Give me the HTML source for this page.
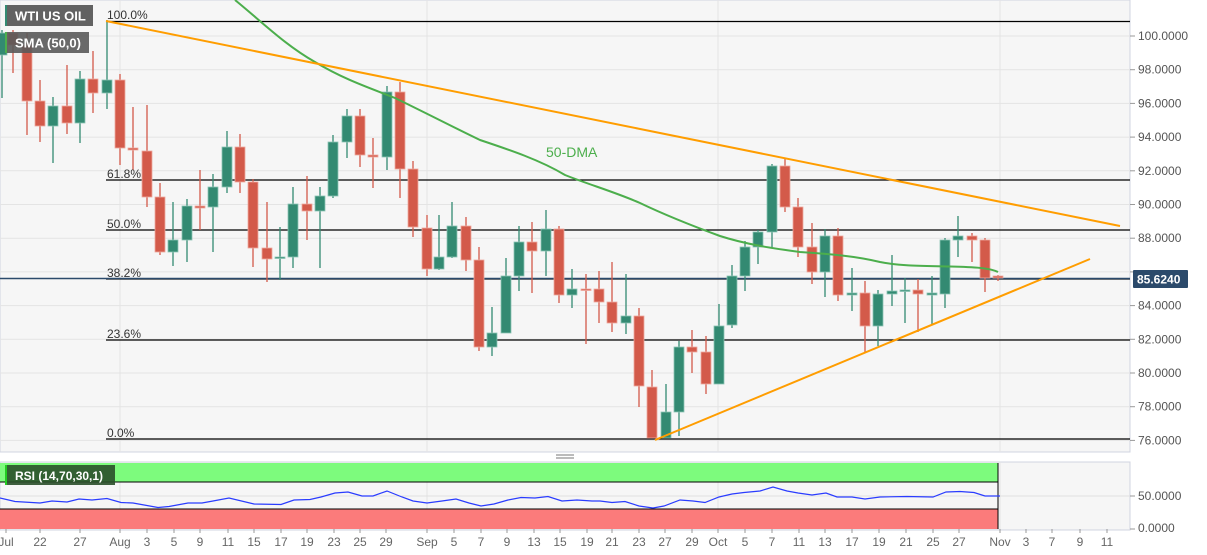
<!DOCTYPE html>
<html><head><meta charset="utf-8">
<style>
html,body{margin:0;padding:0;background:#fff;}
svg{display:block;font-family:"Liberation Sans",sans-serif;}
</style></head><body>
<svg id="c" width="1207" height="555" viewBox="0 0 1207 555" xmlns="http://www.w3.org/2000/svg">
<rect x="0" y="0" width="1207" height="555" fill="#fff"/>
<rect x="0" y="0" width="1130" height="452" fill="#f6f6f6" stroke="#d0d4e0"/>
<rect x="0" y="462" width="1130" height="68" fill="#f6f6f6" stroke="#d0d4e0"/>
<g id="grid" stroke="#e4e4e4" stroke-width="1"></g>
<g id="fib" stroke="#000" stroke-width="1.3"></g>
<line x1="0" y1="278.5" x2="1130" y2="278.5" stroke="#2b4a6b" stroke-width="1.5"/>
<g id="candles"></g>
<path fill="none" stroke="#4cae4c" stroke-width="2" d="M235,0 C262,22 285,45 315,62 C345,80 370,88 395,98 C430,115 455,128 480,140 C510,150 540,160 565,175 C590,185 615,192 640,203 C665,215 690,225 720,236 C745,244 770,248 800,252 C830,254 855,256 880,262 C900,266 920,266 950,266.5 C975,267 990,268 998,272"/>
<line x1="106" y1="21" x2="1120" y2="226" stroke="#ff9d00" stroke-width="2"/>
<line x1="655" y1="440" x2="1090" y2="259" stroke="#ff9d00" stroke-width="2"/>
<text x="546" y="157" font-size="14" fill="#4cae4c">50-DMA</text>
<g font-size="12" fill="#333">
<text x="107" y="19">100.0%</text>
<text x="107" y="178">61.8%</text>
<text x="107" y="228">50.0%</text>
<text x="107" y="277">38.2%</text>
<text x="107" y="338">23.6%</text>
<text x="107" y="437">0.0%</text>
</g>
<g id="yax" font-size="12" fill="#555"></g>
<rect x="1133" y="270" width="55" height="18" fill="#2b4a6b" rx="1"/>
<text x="1137" y="283.5" font-size="12" font-weight="bold" fill="#fff">85.6240</text>
<rect x="0" y="463" width="998" height="19" fill="#7dfb7d"/>
<line x1="0" y1="482" x2="998" y2="482" stroke="#000"/>
<rect x="0" y="509" width="998" height="20" fill="#fb7b7b"/>
<line x1="0" y1="509" x2="998" y2="509" stroke="#000"/>
<line x1="998" y1="463" x2="998" y2="529" stroke="#000"/>
<line x1="0" y1="496" x2="1130" y2="496" stroke="#e0e0e0"/>
<polyline id="rsi" fill="none" stroke="#2a3cff" stroke-width="1.2"/>
<line x1="1130" y1="496" x2="1135" y2="496" stroke="#999"/>
<line x1="1130" y1="529" x2="1135" y2="529" stroke="#999"/>
<text x="1138" y="500" font-size="12" fill="#555">50.0000</text>
<text x="1138" y="532" font-size="12" fill="#555">0.0000</text>
<line x1="556" y1="455" x2="574" y2="455" stroke="#777"/>
<line x1="556" y1="458" x2="574" y2="458" stroke="#777"/>
<g id="xax" font-size="12" fill="#666"></g>
<rect x="5" y="5" width="88" height="21" fill="#5a5a5a" opacity="0.95"/>
<rect x="5" y="5" width="2" height="21" fill="#338a72"/>
<text x="15" y="20.5" font-size="13" font-weight="bold" fill="#fff">WTI US OIL</text>
<rect x="5" y="32" width="84" height="21" fill="#5a5a5a" opacity="0.9"/>
<rect x="5" y="32" width="2" height="21" fill="#4cae4c"/>
<text x="15" y="47.5" font-size="13" font-weight="bold" fill="#fff">SMA (50,0)</text>
<rect x="5" y="465" width="110" height="20" fill="#2a4f2a" opacity="0.9"/>
<rect x="5" y="465" width="2" height="20" fill="#2c2"/>
<text x="15" y="480" font-size="12" font-weight="bold" fill="#fff">RSI (14,70,30,1)</text>
</svg>
<script>
var NS="http://www.w3.org/2000/svg";
function el(p,t,a,txt){var e=document.createElementNS(NS,t);for(var k in a)e.setAttribute(k,a[k]);if(txt!=null)e.textContent=txt;document.getElementById(p).appendChild(e);return e;}
for(var i=0;i<=12;i++){var v=100-2*i;var y=36+i*33.7;if(y>452)break;
 el("grid","line",{x1:0,y1:y,x2:1130,y2:y});
 el("yax","line",{x1:1130,y1:y,x2:1135,y2:y,stroke:"#999"});
 if(v!==86) el("yax","text",{x:1138,y:y+4},v.toFixed(4));}
var dates=[["Jul",6],["22",40],["27",80],["Aug",120],["3",147],["5",174],["9",200],["11",228],["15",254],["17",281],["19",307],["23",334],["25",360],["29",386],["Sep",427],["5",454],["7",481],["9",507],["13",534],["15",560],["19",587],["21",612],["23",639],["27",665],["29",692],["Oct",718],["5",745],["7",772],["11",799],["13",825],["17",852],["19",879],["21",906],["25",933],["27",959],["Nov",1000],["3",1026],["7",1052],["9",1080],["11",1107]];
dates.forEach(function(d){
 if(d[0]=="Aug"||d[0]=="Sep"||d[0]=="Oct"||d[0]=="Nov"){el("grid","line",{x1:d[1],y1:0,x2:d[1],y2:452});el("grid","line",{x1:d[1],y1:462,x2:d[1],y2:529});}
 el("xax","line",{x1:d[1],y1:529,x2:d[1],y2:533,stroke:"#999"});
 el("xax","text",{x:d[1],y:546,"text-anchor":"middle"},d[0]);});
[21.5,180,230,279,340,439].forEach(function(y){el("fib","line",{x1:106,y1:y,x2:1130,y2:y});});
var C=[[2,55,33,30,98,"g"],[13,33,45,30,73],[27,45,101,33,135],[40,101,126,80,142],[53,126,106,97,163],[67,106,123,65,134],[80,123,79,71,143],[93,79,93,51,113],[107,93,80,20,109],[120,80,148,74,165],[133,148,150,107,170],[147,151,197,105,207],[160,197,252,183,255],[173,252,240,202,266],[187,240,206,199,262],[200,206,208,170,230],[213,207,187,174,252],[227,187,147,131,193],[240,147,182,134,193],[253,182,248,179,267],[267,248,259,202,282],[280,258,257,227,280],[293,257,204,187,268],[307,204,211,176,240],[320,211,196,187,268],[333,196,142,135,198],[347,142,116,109,158],[360,116,155,109,167],[373,155,157,138,188],[387,157,92,86,170],[400,92,169,82,198],[413,169,227,161,237],[427,228,269,215,276],[439,269,257,215,270],[452,257,226,202,258],[466,226,260,217,271],[479,260,347,247,351],[492,347,333,307,356],[506,333,276,258,333],[519,276,242,226,291],[532,242,251,222,293],[546,251,229,210,276],[559,229,295,226,303],[572,295,289,269,308],[586,289,290,274,344],[599,289,302,271,323],[612,302,323,262,332],[626,323,316,274,334],[639,316,386,308,407],[652,387,438,370,438],[666,438,412,384,438],[679,412,347,341,436],[692,347,352,330,373],[706,352,384,336,394],[719,384,326,304,384],[732,325,276,265,328],[745,276,247,241,291],[758,247,232,230,264],[772,232,166,164,248],[785,166,207,159,212],[798,207,247,198,257],[812,247,272,223,284],[825,272,236,229,297],[838,236,295,228,301],[852,295,293,268,311],[865,293,326,281,352],[878,326,294,290,346],[892,294,291,255,306],[905,291,290,278,323],[918,290,294,279,332],[932,295,293,276,325],[945,294,240,238,308],[958,240,236,216,257],[972,236,240,233,262],[985,240,278,238,292],[998,276,278,275,281]];
C.forEach(function(c){var up=c[2]<c[1];if(c[5]=="g")up=true;var col=up?"#338a72":"#d35a4a";
 el("candles","line",{x1:c[0],y1:c[3],x2:c[0],y2:c[4],stroke:col,"stroke-width":1.3});
 var t=Math.min(c[1],c[2]),h=Math.max(Math.abs(c[1]-c[2]),1.5);
 el("candles","rect",{x:c[0]-5,y:t,width:10,height:h,fill:col,stroke:up?"#8cc4b4":"#eea99e","stroke-width":0.8});});
var R=[[0,498],[15,501.5],[40,503],[52,501],[67,502],[79,499],[92,500],[107,498.5],[121,502.5],[133,503],[158,507.5],[169,506.5],[188,503],[202,503],[213,501],[229,498],[254,504],[281,504.5],[294,500],[310,499.5],[321,497],[335,493],[348,492],[362,496],[373,496],[387,491],[402,497],[413,501],[427,503],[442,501],[456,499],[469,503],[481,506],[494,504],[508,500],[521,497.5],[535,498],[548,496.5],[562,501],[577,500],[592,501],[600,501],[612,502.5],[625,501.5],[639,506],[653,508],[664,506],[680,500],[693,501],[705,502.5],[719,497],[732,494],[744,492.5],[760,491],[773,487],[787,491],[798,493],[812,495],[826,493],[837,497],[852,497],[865,499],[880,497],[907,496.5],[933,497],[946,492],[960,491.5],[974,492.5],[985,496],[1000,496]];
document.getElementById("rsi").setAttribute("points",R.map(function(p){return p.join(",");}).join(" "));
</script>
</body></html>
